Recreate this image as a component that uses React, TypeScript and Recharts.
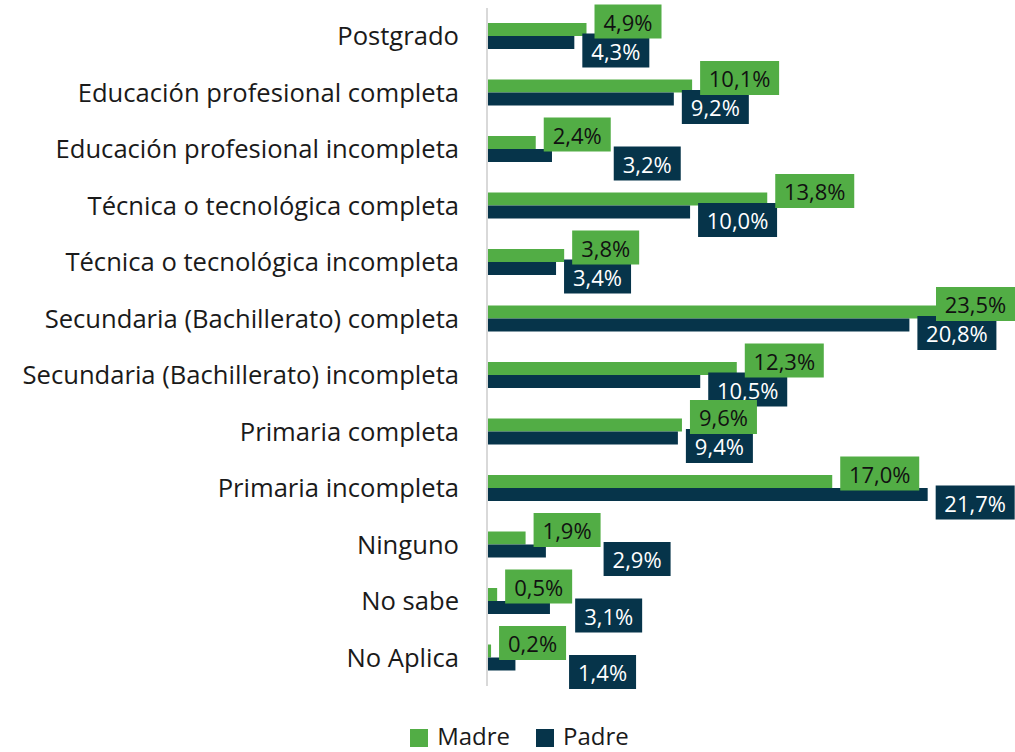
import { BarChart, Bar, XAxis, YAxis, Legend, LabelList } from "recharts"

const categories = [
  "Postgrado",
  "Educación profesional completa",
  "Educación profesional incompleta",
  "Técnica o tecnológica completa",
  "Técnica o tecnológica incompleta",
  "Secundaria (Bachillerato) completa",
  "Secundaria (Bachillerato) incompleta",
  "Primaria completa",
  "Primaria incompleta",
  "Ninguno",
  "No sabe",
  "No Aplica",
]
const madre = [4.9, 10.1, 2.4, 13.8, 3.8, 23.5, 12.3, 9.6, 17.0, 1.9, 0.5, 0.2]
const padre = [4.3, 9.2, 3.2, 10.0, 3.4, 20.8, 10.5, 9.4, 21.7, 2.9, 3.1, 1.4]

const data = categories.map((name, i) => ({ name, madre: madre[i], padre: padre[i] }))

const GREEN = "#52ad45"
const NAVY = "#06344a"
const FONT = "'Open Sans', 'Noto Sans', sans-serif"
const W = 1015
const H = 752
const GAP = 8
const BAR = 13

const fmt = (v: number) => v.toFixed(1).replace(".", ",") + "%"

// rough width of a label box: digits + comma + percent sign + padding
const boxWidth = (t: string) => {
  let w = 18
  for (const c of t) w += c === "," ? 5.5 : c === "%" ? 18 : 12.6
  return Math.round(w)
}

const labelBox = (text: string, bx: number, cy: number, fill: string, color: string) => {
  const w = boxWidth(text)
  return (
    <g>
      <rect x={bx} y={cy - 17} width={w} height={34} fill={fill} />
      <text
        x={bx + w / 2}
        y={cy}
        textAnchor="middle"
        dominantBaseline="central"
        fill={color}
        fontSize={22}
        fontFamily={FONT}
      >
        {text}
      </text>
    </g>
  )
}

// both labels of a row are drawn here so the Madre box sits on top of the Padre box
const renderRowLabels = (props: any) => {
  const { x, y, width, height, value, index } = props
  const pVal = Number(value)
  const mVal = madre[index]
  const perUnit = pVal > 0 ? width / pVal : 0

  const mText = fmt(mVal)
  const mW = boxWidth(mText)
  const mx = Math.min(x + mVal * perUnit + GAP, W - mW)

  const pText = fmt(pVal)
  const pW = boxWidth(pText)
  let px = x + width + GAP
  // longer Padre bar: its label would start inside the Madre label, push it past
  if (pVal > mVal && px < mx + mW && px + pW > mx) px = mx + mW + 3
  px = Math.min(px, W - pW)

  return (
    <g>
      {labelBox(pText, px, y + height / 2 + 8, NAVY, "#fff")}
      {labelBox(mText, mx, y - BAR + BAR / 2 - 8, GREEN, "#111")}
    </g>
  )
}

const renderLegend = () => (
  <div
    style={{
      display: "flex",
      justifyContent: "center",
      gap: 26,
      paddingLeft: 24,
      fontFamily: FONT,
      fontSize: 24,
      color: "#1a1a1a",
      lineHeight: "24px",
    }}
  >
    {[
      { label: "Madre", color: GREEN },
      { label: "Padre", color: NAVY },
    ].map((item) => (
      <span key={item.label} style={{ display: "flex", alignItems: "center", gap: 9 }}>
        <span style={{ width: 18, height: 18, background: item.color, display: "inline-block", marginTop: 3 }} />
        {item.label}
      </span>
    ))}
  </div>
)

export default function App() {
  return (
    <div style={{ position: "absolute", left: 0, top: 0, width: W, height: H, background: "#fff" }}>
      <BarChart
        width={W}
        height={H}
        data={data}
        layout="vertical"
        margin={{ top: 8, right: 0, bottom: 42, left: 0 }}
        barGap={0}
        barSize={BAR}
      >
        <XAxis type="number" domain={[0, 26]} hide />
        <YAxis
          type="category"
          dataKey="name"
          width={487}
          tickLine={false}
          tickSize={0}
          tickMargin={28}
          axisLine={{ stroke: "#d9d9d9", strokeWidth: 2 }}
          tick={{ fontSize: 25.6, fill: "#1a1a1a", fontFamily: FONT }}
          interval={0}
        />
        <Legend verticalAlign="bottom" content={renderLegend} wrapperStyle={{ top: 724, bottom: "auto" }} />
        <Bar dataKey="madre" name="Madre" fill={GREEN} isAnimationActive={false} />
        <Bar dataKey="padre" name="Padre" fill={NAVY} isAnimationActive={false}>
          <LabelList dataKey="padre" content={renderRowLabels} />
        </Bar>
      </BarChart>
    </div>
  )
}
